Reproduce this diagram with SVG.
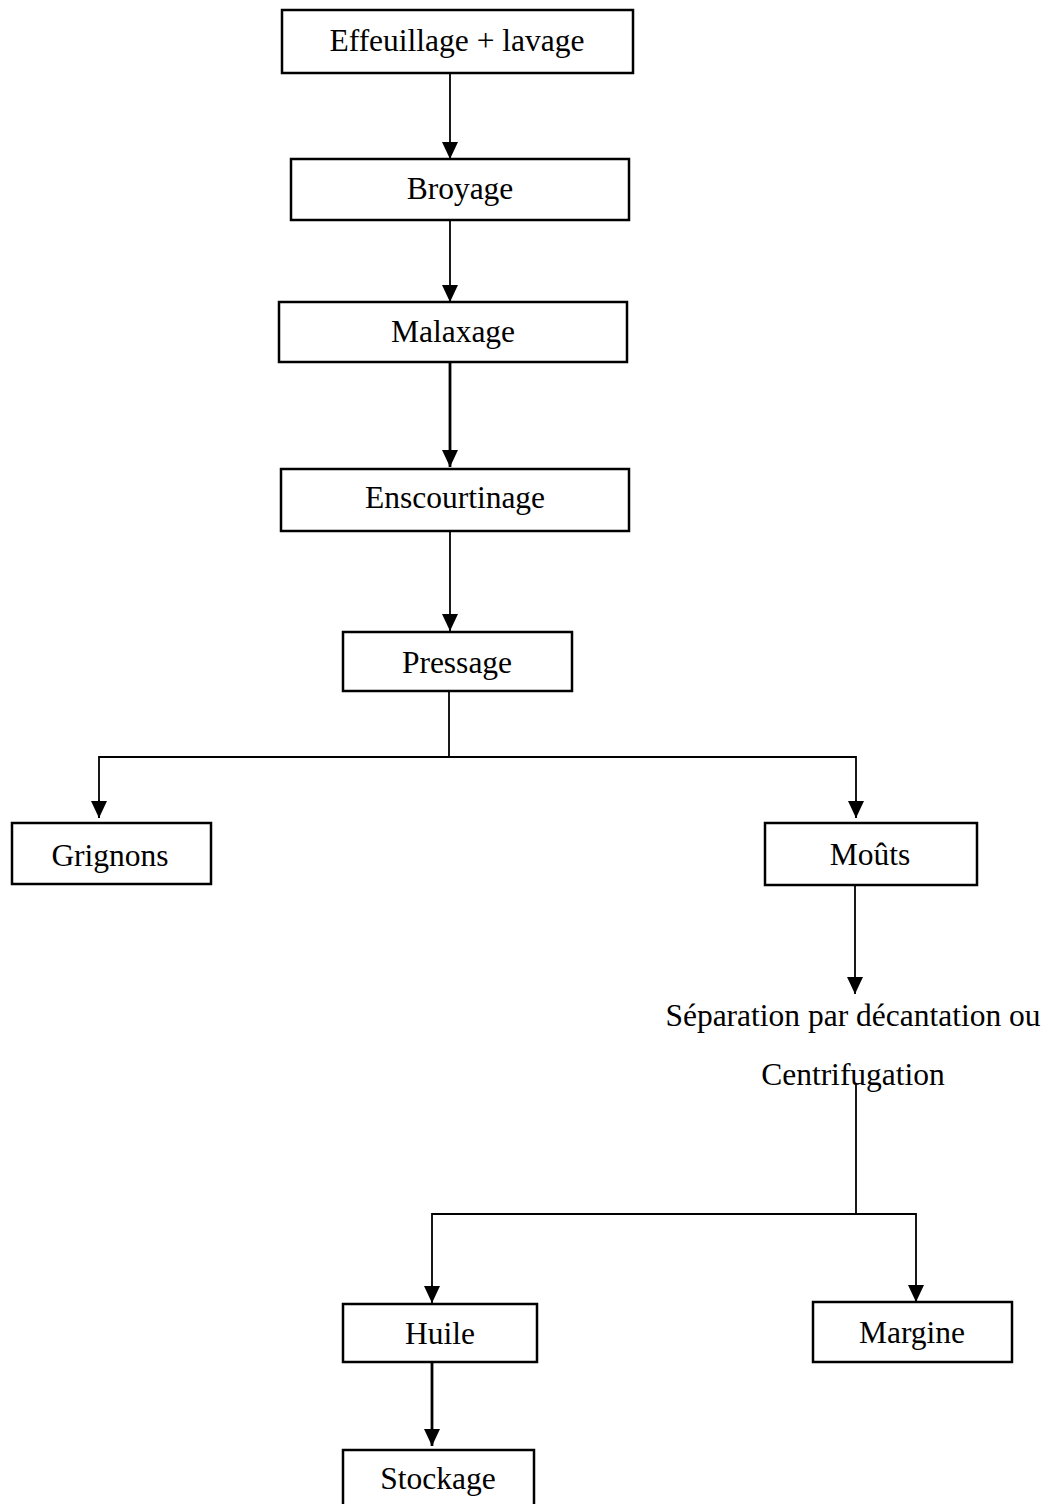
<svg xmlns="http://www.w3.org/2000/svg" width="1052" height="1504" viewBox="0 0 1052 1504">
<defs>
<style>
.box{fill:#fff;stroke:#000;stroke-width:2.5}
.t{font-family:"Liberation Serif","Times New Roman",serif;font-size:31.5px;fill:#000;text-anchor:middle}
.ln{fill:none;stroke:#000;stroke-width:1.8}
.thick{stroke-width:2.8}
</style>
<marker id="ah" markerUnits="userSpaceOnUse" markerWidth="17" markerHeight="17" viewBox="0 0 17 17" refX="17" refY="8.5" orient="auto">
<path d="M0,0.5 L17,8.5 L0,16.5 z" fill="#000"/>
</marker>
</defs>
<rect width="1052" height="1504" fill="#fff"/>
<g id="connectors">
<line class="ln" x1="450" y1="73" x2="450" y2="159" marker-end="url(#ah)"/>
<line class="ln" x1="450" y1="220" x2="450" y2="302" marker-end="url(#ah)"/>
<line class="ln thick" x1="450" y1="362" x2="450" y2="467" marker-end="url(#ah)"/>
<line class="ln" x1="450" y1="531" x2="450" y2="631" marker-end="url(#ah)"/>
<line class="ln" x1="449" y1="685" x2="449" y2="757"/>
<polyline class="ln" points="99,818 99,757 856,757 856,818" stroke-width="2.2"/>
<line class="ln" x1="99" y1="800" x2="99" y2="818" marker-end="url(#ah)"/>
<line class="ln" x1="856" y1="800" x2="856" y2="818" marker-end="url(#ah)"/>
<line class="ln" x1="855" y1="885" x2="855" y2="994" marker-end="url(#ah)"/>
<line class="ln" x1="856" y1="1085" x2="856" y2="1214"/>
<polyline class="ln" points="432,1303 432,1214 916,1214 916,1302" stroke-width="2"/>
<line class="ln" x1="432" y1="1285" x2="432" y2="1303" marker-end="url(#ah)"/>
<line class="ln" x1="916" y1="1285" x2="916" y2="1302" marker-end="url(#ah)"/>
<line class="ln thick" x1="432" y1="1362" x2="432" y2="1446" marker-end="url(#ah)"/>
</g>
<g id="n1"><rect class="box" x="282" y="10" width="351" height="63"/><text class="t" x="457" y="51">Effeuillage + lavage</text></g>
<g id="n2"><rect class="box" x="291" y="159" width="338" height="61"/><text class="t" x="460" y="199">Broyage</text></g>
<g id="n3"><rect class="box" x="279" y="302" width="348" height="60"/><text class="t" x="453" y="342">Malaxage</text></g>
<g id="n4"><rect class="box" x="281" y="469" width="348" height="62"/><text class="t" x="455" y="508">Enscourtinage</text></g>
<g id="n5"><rect class="box" x="343" y="632" width="229" height="59"/><text class="t" x="457" y="673">Pressage</text></g>
<g id="n6"><rect class="box" x="12" y="823" width="199" height="61"/><text class="t" x="110" y="866">Grignons</text></g>
<g id="n7"><rect class="box" x="765" y="823" width="212" height="62"/><text class="t" x="870" y="865">Moûts</text></g>
<g id="n8"><text class="t" x="853" y="1026">Séparation par décantation ou</text><text class="t" x="853" y="1085">Centrifugation</text></g>
<g id="n9"><rect class="box" x="343" y="1304" width="194" height="58"/><text class="t" x="440" y="1344">Huile</text></g>
<g id="n10"><rect class="box" x="813" y="1302" width="199" height="60"/><text class="t" x="912" y="1343">Margine</text></g>
<g id="n11"><rect class="box" x="343" y="1450" width="191" height="62"/><text class="t" x="438" y="1489">Stockage</text></g>
</svg>
